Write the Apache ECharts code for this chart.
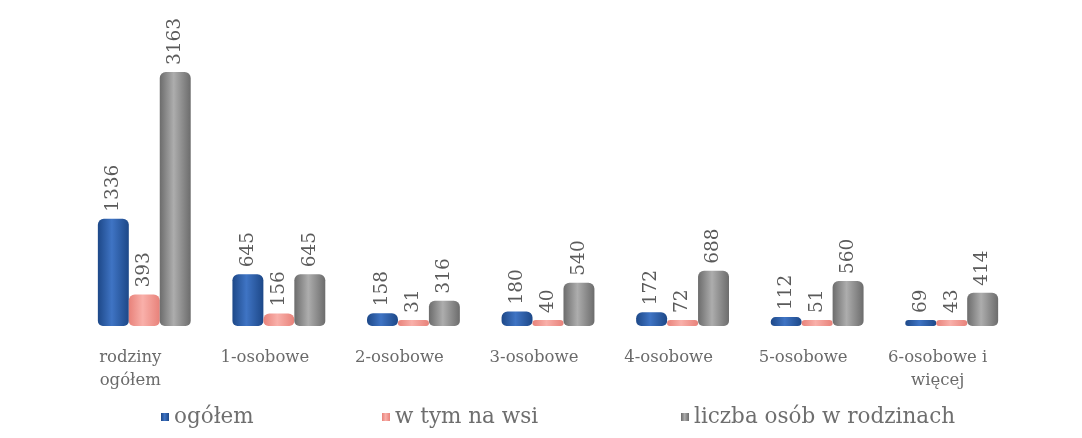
<!DOCTYPE html>
<html>
<head>
<meta charset="utf-8">
<script src="https://cdn.jsdelivr.net/npm/echarts@6/dist/echarts.min.js"></script>
<style>
  html, body { margin: 0; padding: 0; background: #fff; }
  #chart { width: 1082px; height: 438px; }
</style>
</head>
<body>
<div id="chart"></div>
<script>
const categories = ['rodziny\nogółem', '1-osobowe', '2-osobowe', '3-osobowe', '4-osobowe', '5-osobowe', '6-osobowe i\nwięcej'];
const ogolem = [1336, 645, 158, 180, 172, 112, 69];
const naWsi = [393, 156, 31, 40, 72, 51, 43];
const liczbaOsob = [3163, 645, 316, 540, 688, 560, 414];
const seriesNames = ['ogółem', 'w tym na wsi', 'liczba osób w rodzinach'];

const serif = 'DejaVu Serif';

// horizontal gradient to fake the cylinder shading
function cylinder(edge, mid) {
  return new echarts.graphic.LinearGradient(0, 0, 1, 0, [
    { offset: 0, color: edge },
    { offset: 0.45, color: mid },
    { offset: 1, color: edge }
  ]);
}

function barSeries(name, data, edge, mid) {
  return {
    name: name,
    type: 'bar',
    data: data,
    barGap: '0%',
    barCategoryGap: '31%',
    barMinHeight: 6,
    itemStyle: {
      color: cylinder(edge, mid),
      borderRadius: [6, 6, 5, 5]
    },
    label: {
      show: true,
      position: 'top',
      rotate: 90,
      align: 'left',
      verticalAlign: 'middle',
      distance: 7,
      fontFamily: serif,
      fontSize: 18.5,
      color: '#5a5a5a'
    }
  };
}

// one legend per item so each sits where the original has it
function legendAt(name, left) {
  return {
    data: [name],
    left: left,
    top: 401,
    itemWidth: 8,
    itemHeight: 8,
    icon: 'rect',
    textStyle: { fontFamily: serif, fontSize: 21.5, color: '#6e6e6e' }
  };
}

const chart = echarts.init(document.getElementById('chart'));
chart.setOption({
  animation: false,
  backgroundColor: '#fff',
  color: ['#2d5fa8', '#f29890', '#8c8c8c'],
  grid: { left: 77, right: 63, top: 45, bottom: 112 },
  legend: [
    legendAt(seriesNames[0], 156),
    legendAt(seriesNames[1], 377),
    legendAt(seriesNames[2], 676)
  ],
  xAxis: {
    type: 'category',
    data: categories,
    axisLine: { show: false },
    axisTick: { show: false },
    axisLabel: {
      interval: 0,
      margin: 20,
      padding: [0, 28, 0, 0],
      fontFamily: serif,
      fontSize: 16.5,
      lineHeight: 23,
      color: '#6a6a6a'
    }
  },
  yAxis: {
    type: 'value',
    min: 0,
    max: 3500,
    show: false
  },
  series: [
    barSeries(seriesNames[0], ogolem, '#1d4888', '#3f74c4'),
    barSeries(seriesNames[1], naWsi, '#e8827a', '#f9b0aa'),
    barSeries(seriesNames[2], liczbaOsob, '#6c6c6c', '#adadad')
  ]
});
</script>
</body>
</html>
